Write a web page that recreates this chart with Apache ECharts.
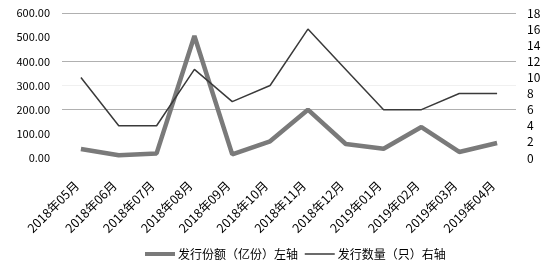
<!DOCTYPE html>
<html><head><meta charset="utf-8">
<script src="https://cdn.jsdelivr.net/npm/echarts@6/dist/echarts.min.js"></script>
<style>html,body{margin:0;padding:0;background:#fff}#c{width:550px;height:267px}</style>
</head><body><div id="c"></div>
<script>
const categories = ['2018年05月','2018年06月','2018年07月','2018年08月','2018年09月','2018年10月','2018年11月','2018年12月','2019年01月','2019年02月','2019年03月','2019年04月'];
const amountValues = [37, 11, 19, 505, 15, 69, 200, 58, 38, 128, 25, 62];
const countValues = [10, 4, 4, 11, 7, 9, 16, 11, 6, 6, 8, 8];
const leftTicks = [0, 100, 200, 300, 400, 500, 600];
const rightTicks = [0, 2, 4, 6, 8, 10, 12, 14, 16, 18];
const seriesNames = ['发行份额（亿份）左轴', '发行数量（只）右轴'];

const font = '"Noto Sans CJK SC", sans-serif';
const chart = echarts.init(document.getElementById('c'));
chart.setOption({
  animation: false,
  textStyle: { fontFamily: font },
  grid: { left: 62, right: 34, top: 13, bottom: 109 },
  legend: {
    top: 243, left: 138,
    itemWidth: 30, itemHeight: 10, itemGap: 6,
    itemStyle: { opacity: 0 },
    textStyle: { fontFamily: font, fontSize: 12, color: '#000', padding: [0, 0, 0, -2] },
    data: [
      { name: seriesNames[0], lineStyle: { width: 4, color: '#7a7a7a' } },
      { name: seriesNames[1], lineStyle: { width: 1.5, color: '#3a3a3a' } }
    ]
  },
  xAxis: {
    type: 'category', data: categories, boundaryGap: true,
    axisLine: { show: false }, axisTick: { show: false },
    axisLabel: { rotate: 45, fontSize: 12.5, color: '#000', margin: 21, interval: 0, fontFamily: font,
      padding: [0, 6, 0, 0] }
  },
  yAxis: [
    {
      type: 'value', min: leftTicks[0], max: leftTicks[leftTicks.length - 1], interval: 100,
      axisLine: { show: false }, axisTick: { show: false },
      axisLabel: { fontSize: 11, color: '#000', margin: 12, fontFamily: font,
        formatter: v => v.toFixed(2) },
      splitLine: { show: true, lineStyle: { width: 1,
        color: ['rgba(0,0,0,0)', 'rgba(0,0,0,0)', '#b0b0b0', '#f0f0f0', '#b0b0b0', 'rgba(0,0,0,0)', '#b0b0b0'] } }
    },
    {
      type: 'value', min: rightTicks[0], max: rightTicks[rightTicks.length - 1], interval: 2,
      axisLine: { show: false }, axisTick: { show: false },
      splitLine: { show: false },
      axisLabel: { fontSize: 12, color: '#000', margin: 11, fontFamily: font }
    }
  ],
  series: [
    {
      name: seriesNames[0], type: 'line', data: amountValues, yAxisIndex: 0,
      symbol: 'none', showSymbol: false,
      lineStyle: { color: '#7a7a7a', width: 4.5 }, itemStyle: { color: '#7a7a7a' }
    },
    {
      name: seriesNames[1], type: 'line', data: countValues, yAxisIndex: 1,
      symbol: 'none', showSymbol: false,
      lineStyle: { color: '#3a3a3a', width: 1.5 }, itemStyle: { color: '#3a3a3a' }
    }
  ]
});
</script></body></html>
